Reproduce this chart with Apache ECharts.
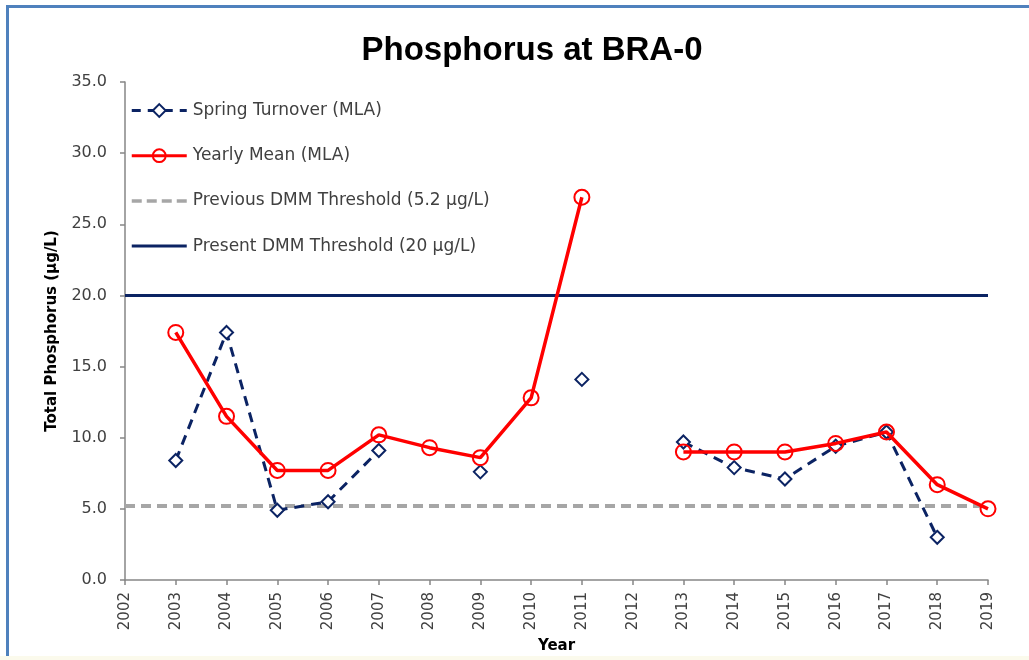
<!DOCTYPE html>
<html>
<head>
<meta charset="utf-8">
<script src="https://cdn.jsdelivr.net/npm/echarts@6/dist/echarts.min.js"></script>
<style>
  html, body { margin: 0; padding: 0; background: #ffffff; overflow: hidden; }
  #frame { position: absolute; left: 6px; top: 5px; width: 1100px; height: 700px; border-left: 3px solid #4F81BD; border-top: 3px solid #4F81BD; box-sizing: border-box; }
  #strip { position: absolute; left: 0; right: 0; bottom: 0; height: 4px; background: #FBFAEC; }
  #chart { position: absolute; left: 0; top: 0; width: 1029px; height: 660px; }
</style>
</head>
<body>
<div id="frame"></div>
<div id="strip"></div>
<div id="chart"></div>
<script>
// ---- data ----
const years = ['2002','2003','2004','2005','2006','2007','2008','2009','2010','2011','2012','2013','2014','2015','2016','2017','2018','2019'];
const springTurnover = [null, 8.4, 17.4, 4.9, 5.5, 9.1, null, 7.6, null, 14.1, null, 9.7, 7.9, 7.1, 9.4, 10.4, 3.0, null];
const yearlyMean     = [null, 17.4, 11.5, 7.7, 7.7, 10.2, 9.3, 8.6, 12.8, 26.9, null, 9.0, 9.0, 9.0, 9.6, 10.4, 6.7, 5.0];
const previousThreshold = 5.2;
const presentThreshold = 20;
const yTicks = [0, 5, 10, 15, 20, 25, 30, 35];

const NAVY = '#0B2363';
const RED = '#FF0000';
const GRAY = '#A6A6A6';
const AXIS = '#868686';
const TXT = '#404040';

const previousLine = years.map(() => previousThreshold);
const presentLine = years.map(() => presentThreshold);

const noSymbol = { color: 'rgba(0,0,0,0)', borderWidth: 0, borderColor: 'rgba(0,0,0,0)' };

const chart = echarts.init(document.getElementById('chart'), null, { renderer: 'canvas' });
chart.setOption({
  animation: false,
  title: {
    text: 'Phosphorus at BRA-0',
    left: 527, top: 29, textAlign: 'center',
    textStyle: { fontFamily: 'Liberation Sans', fontWeight: 'bold', fontSize: 33, color: '#000' }
  },
  grid: { left: 125, right: 41, top: 82, bottom: 80, containLabel: false },
  legend: {
    orient: 'vertical', left: 130, top: 102, padding: 0,
    itemWidth: 55, itemHeight: 16, itemGap: 28.2,
    data: [
      { name: 'Spring Turnover (MLA)', lineStyle: { width: 3, type: [9, 7] } },
      { name: 'Yearly Mean (MLA)', lineStyle: { width: 3 } },
      { name: 'Previous DMM Threshold (5.2 µg/L)', lineStyle: { width: 3.5, type: [10, 5] }, itemStyle: noSymbol },
      { name: 'Present DMM Threshold (20 µg/L)', lineStyle: { width: 3 }, itemStyle: noSymbol }
    ],
    textStyle: { fontFamily: 'DejaVu Sans', fontSize: 17, color: TXT, padding: [0,0,0,1] }
  },
  xAxis: {
    type: 'category', data: years, boundaryGap: false,
    name: 'Year', nameLocation: 'middle', nameGap: 59,
    nameTextStyle: { fontFamily: 'DejaVu Sans', fontWeight: 'bold', fontSize: 15, color: '#000' },
    axisLine: { lineStyle: { color: AXIS, width: 1.5 } },
    axisTick: { show: true, inside: false, length: 5, interval: 0, lineStyle: { color: AXIS, width: 1.5 } },
    axisLabel: { rotate: 90, interval: 0, margin: 12, fontFamily: 'DejaVu Sans', fontSize: 15, color: TXT },
    splitLine: { show: false }
  },
  yAxis: {
    type: 'value', min: yTicks[0], max: yTicks[yTicks.length - 1], interval: 5,
    name: 'Total Phosphorus (µg/L)', nameLocation: 'middle', nameGap: 65,
    nameTextStyle: { fontFamily: 'DejaVu Sans', fontWeight: 'bold', fontSize: 15, color: '#000' },
    axisLine: { show: true, lineStyle: { color: AXIS, width: 1.5 } },
    axisTick: { show: true, inside: false, length: 5, lineStyle: { color: AXIS, width: 1.5 } },
    axisLabel: { margin: 18, fontFamily: 'DejaVu Sans', fontSize: 16, color: TXT, formatter: v => v.toFixed(1) },
    splitLine: { show: false }
  },
  series: [
    {
      name: 'Previous DMM Threshold (5.2 µg/L)', type: 'line', data: previousLine,
      symbol: 'none', showSymbol: false, silent: true,
      itemStyle: { color: GRAY },
      lineStyle: { color: GRAY, width: 4, type: [10, 6] },
      z: 1
    },
    {
      name: 'Present DMM Threshold (20 µg/L)', type: 'line', data: presentLine,
      symbol: 'none', showSymbol: false, silent: true,
      itemStyle: { color: NAVY },
      lineStyle: { color: NAVY, width: 3, type: 'solid' },
      z: 1
    },
    {
      name: 'Spring Turnover (MLA)', type: 'line', data: springTurnover,
      connectNulls: false, showAllSymbol: true,
      symbol: 'diamond', symbolSize: 13,
      itemStyle: { color: '#ffffff', borderColor: NAVY, borderWidth: 2 },
      lineStyle: { color: NAVY, width: 3, type: [10, 7] },
      z: 3
    },
    {
      name: 'Yearly Mean (MLA)', type: 'line', data: yearlyMean,
      connectNulls: false, showAllSymbol: true,
      symbol: 'circle', symbolSize: 15,
      itemStyle: { color: 'rgba(255,255,255,0)', borderColor: RED, borderWidth: 2 },
      lineStyle: { color: RED, width: 3.5 },
      z: 4
    }
  ]
});
</script>
</body>
</html>
